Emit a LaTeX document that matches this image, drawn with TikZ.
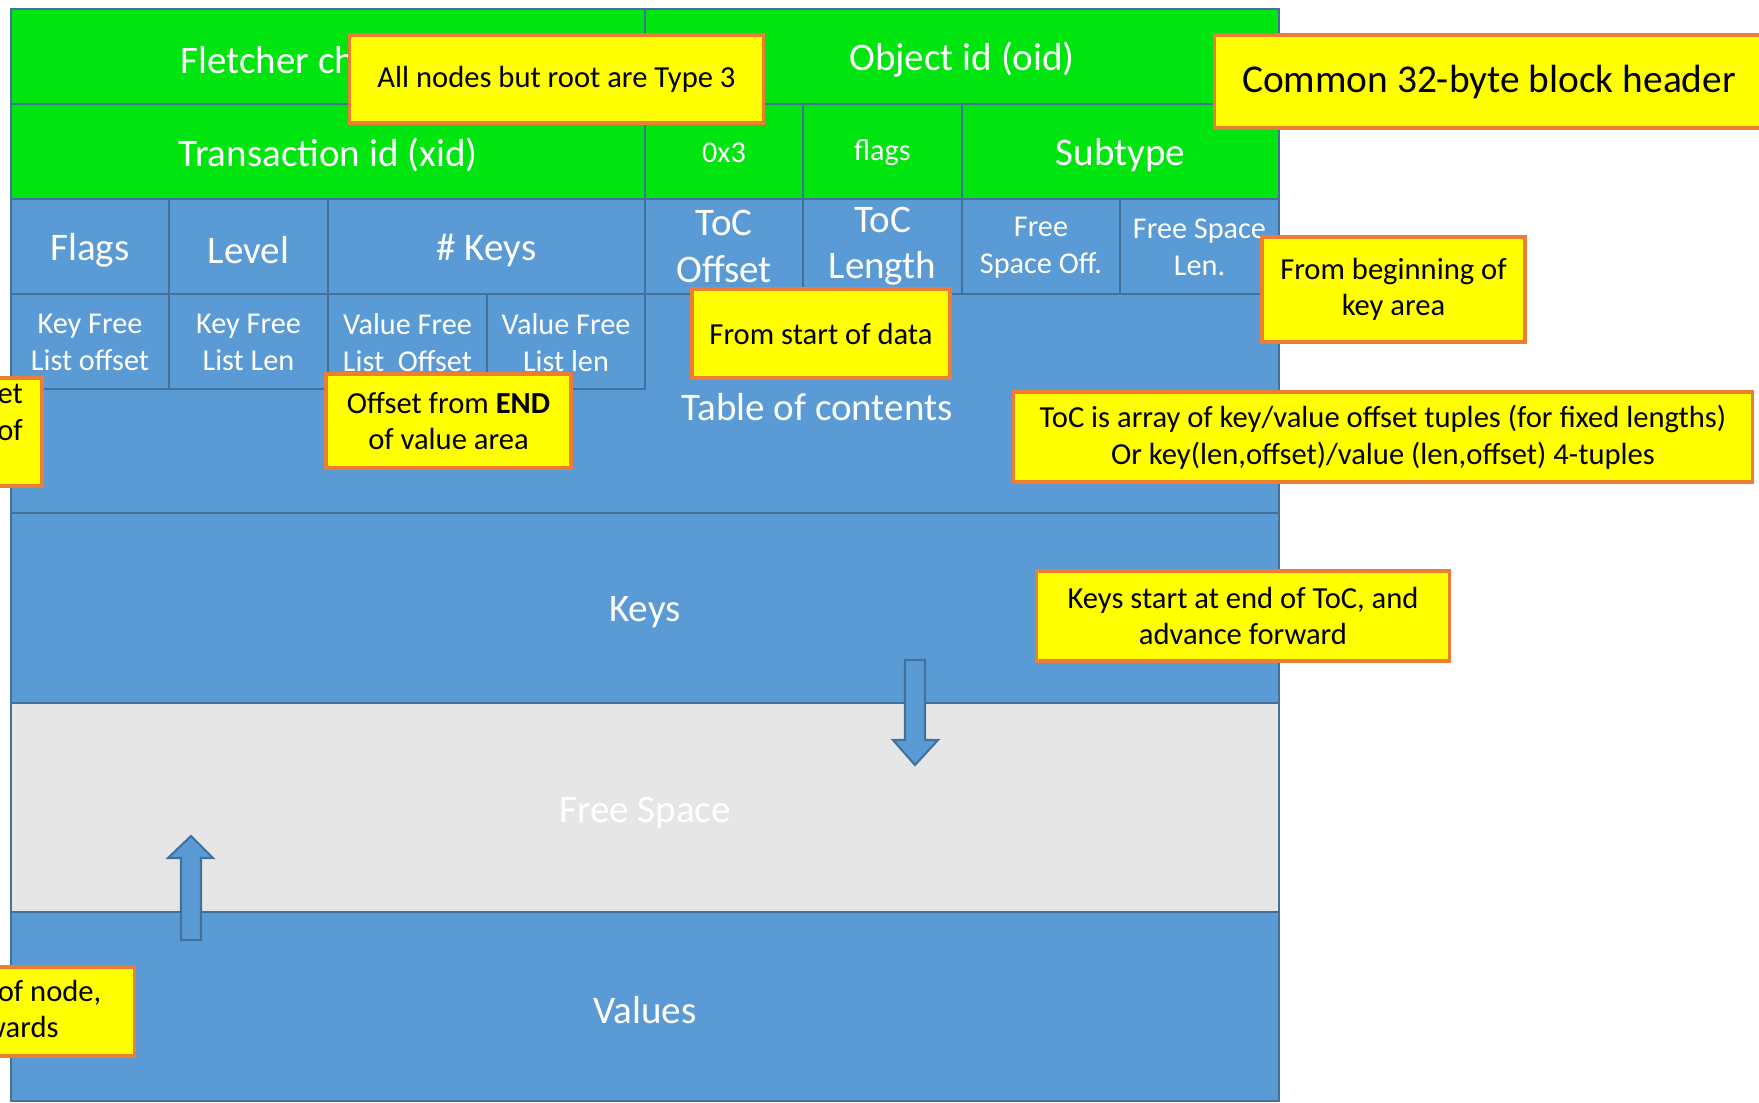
\documentclass[tikz,border=0pt]{standalone}
\usepackage{fontspec}
\setmainfont{Carlito}
\usepackage{tikz}

\definecolor{hdrgreen}{RGB}{0,228,15}
\definecolor{fieldblue}{RGB}{91,155,213}
\definecolor{edgeblue}{RGB}{65,113,156}
\definecolor{freegray}{RGB}{230,230,230}
\definecolor{noteyellow}{RGB}{255,255,0}
\definecolor{noteorange}{RGB}{237,125,49}

\newcommand{\bigfield}{\fontsize{11.1}{13.1}\selectfont}
\newcommand{\smallfield}{\fontsize{8.6}{10.5}\selectfont}
\newcommand{\notesize}{\fontsize{8.7}{10.4}\selectfont}
\newcommand{\hdrnotesize}{\fontsize{11.2}{13.4}\selectfont}

\begin{document}
\begin{tikzpicture}[x=0.01cm, y=-0.01cm,
	cell/.style={draw=edgeblue, line width=0.6pt},
	greencell/.style={cell, fill=hdrgreen},
	bluecell/.style={cell, fill=fieldblue},
	fieldtext/.style={text=white, font=\bigfield, align=center, inner sep=0pt, yshift=-1pt},
	smallfieldtext/.style={fieldtext, font=\smallfield, yshift=0.7pt},
	notebox/.style={draw=noteorange, line width=0.9pt, fill=noteyellow, align=center, font=\notesize, inner sep=0pt},
	blockarrow/.style={fill=fieldblue, draw=edgeblue, line width=0.6pt}]
	\useasboundingbox (0,0) rectangle (1759,1103);
	\clip (0,0) rectangle (1759,1103);

	% big areas
	\draw[bluecell] (11,294) rectangle (1279,513);
	\node[fieldtext] (toc) at (817,404) {Table of contents};
	\draw[bluecell] (11,513) rectangle (1279,703);
	\node[fieldtext] (keys) at (645,609) {Keys};
	\draw[cell, fill=freegray] (11,703) rectangle (1279,912);
	\node[fieldtext] (free) at (645,809) {Free Space};
	\draw[bluecell] (11,912) rectangle (1279,1101);
	\node[fieldtext] (values) at (645,1007) {Values};

	% block header
	\draw[greencell] (11,9) rectangle (645,104);
	\node[fieldtext] (cksum) at (328,56.5) {Fletcher checksum};
	\draw[greencell] (645,9) rectangle (1279,104);
	\node[fieldtext] (oid) at (962,56.5) {Object id (oid)};
	\draw[greencell] (11,104) rectangle (645,199);
	\node[fieldtext] (xid) at (328,151.5) {Transaction id (xid)};
	\draw[greencell] (645,104) rectangle (803,199);
	\node[smallfieldtext] (type) at (724,151.5) {0x3};
	\draw[greencell] (803,104) rectangle (962,199);
	\node[smallfieldtext] (hflags) at (882.5,151.5) {flags};
	\draw[greencell] (962,104) rectangle (1279,199);
	\node[fieldtext] (subtype) at (1120.5,151.5) {Subtype};

	% node header
	\draw[bluecell] (11,199) rectangle (169,294);
	\node[fieldtext] (flags) at (90,246.5) {Flags};
	\draw[bluecell] (169,199) rectangle (328,294);
	\node[fieldtext] (level) at (248.5,246.5) {Level};
	\draw[bluecell] (328,199) rectangle (645,294);
	\node[fieldtext] (nkeys) at (486.5,246.5) {\# Keys};
	\draw[bluecell] (645,199) rectangle (803,294);
	\node[fieldtext, yshift=1pt] (tocoff) at (724,246.5) {ToC\\Offset};
	\draw[bluecell] (803,199) rectangle (962,294);
	\node[fieldtext, yshift=1pt] (toclen) at (882.5,246.5) {ToC\\Length};
	\draw[bluecell] (962,199) rectangle (1120,294);
	\node[smallfieldtext] (fsoff) at (1041,246.5) {Free\\Space Off.};
	\draw[bluecell] (1120,199) rectangle (1279,294);
	\node[smallfieldtext] (fslen) at (1199.5,246.5) {Free Space\\Len.};

	\draw[bluecell] (11,294) rectangle (169,389);
	\node[smallfieldtext] (kfoff) at (90,341.5) {Key Free\\List offset};
	\draw[bluecell] (169,294) rectangle (328,389);
	\node[smallfieldtext] (kflen) at (248.5,341.5) {Key Free\\List Len};
	\draw[bluecell] (328,294) rectangle (487,389);
	\node[smallfieldtext] (vfoff) at (407.5,341.5) {Value Free\\List~~Offset};
	\draw[bluecell] (487,294) rectangle (645,389);
	\node[smallfieldtext] (vflen) at (566,341.5) {Value Free\\List len};

	% growth arrows
	\draw[blockarrow] (905,660) -- (925,660) -- (925,740) -- (938,740) -- (915,765) -- (893,740) -- (905,740) -- cycle;
	\draw[blockarrow] (181,940) -- (201,940) -- (201,858) -- (213,858) -- (191,836) -- (168,858) -- (181,858) -- cycle;

	% notes
	\node[notebox, minimum width=4.13cm, minimum height=0.88cm] (typenote) at (556.5,79) {All nodes but root are Type 3};
	\node[notebox, font=\hdrnotesize, minimum width=5.48cm, minimum height=0.93cm] (hdrnote) at (1489,81.5) {Common 32-byte block header};
	\node[notebox, minimum width=2.63cm, minimum height=1.05cm] (keyareanote) at (1393.5,289.5) {From beginning of\\key area};
	\node[notebox, minimum width=2.58cm, minimum height=0.89cm] (datanote) at (821,333.5) {From start of data};
	\node[notebox, minimum width=2.45cm, minimum height=0.94cm] (endnote) at (448.5,421) {Offset from \textbf{END}\\of value area};
	\node[notebox, minimum width=7.38cm, minimum height=0.90cm] (tocnote) at (1383,437) {ToC is array of key/value offset tuples (for fixed lengths)\\Or key(len,offset)/value (len,offset) 4-tuples};
	\node[notebox, minimum width=4.12cm, minimum height=0.90cm] (keysnote) at (1243,616) {Keys start at end of ToC, and\\advance forward};
	\node[notebox, minimum width=2.60cm, minimum height=1.08cm] (kfnote) at (-88,432) {Key free list offset\\from beginning of\\key area};
	\node[notebox, minimum width=4.06cm, minimum height=0.89cm] (valuesnote) at (-69,1011.5) {Values start at end of node,\\and grow backwards};
\end{tikzpicture}
\end{document}
